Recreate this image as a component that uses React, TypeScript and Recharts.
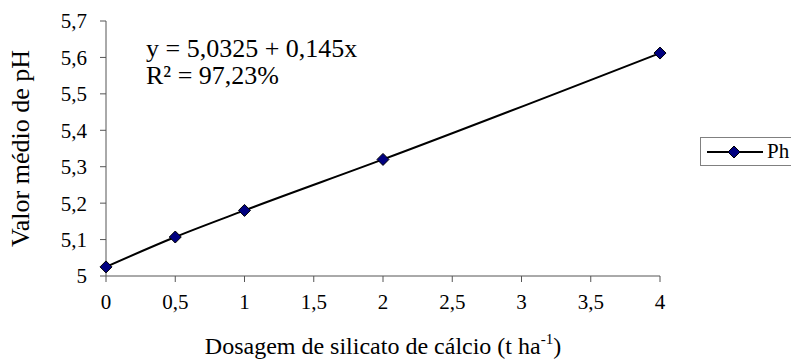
import { LineChart, Line, XAxis, YAxis, Legend, Label } from "recharts"

const doses = [0, 0.5, 1, 2, 4]
const phValues = [5.025, 5.107, 5.18, 5.32, 5.612]
const xTicks = [0, 0.5, 1, 1.5, 2, 2.5, 3, 3.5, 4]
const yTicks = [5, 5.1, 5.2, 5.3, 5.4, 5.5, 5.6, 5.7]
const seriesName = "Ph"
const equationLines = ["y = 5,0325 + 0,145x", "R² = 97,23%"]

const data = doses.map((d, i) => ({ dose: d, ph: phValues[i] }))

const font = "'Liberation Serif', 'Times New Roman', serif"
const fmt = (v: number) => String(v).replace(".", ",")

// force the serif font on every svg text (tick labels kept coming out sans)
const css = `
body { margin: 0; }
.recharts-wrapper svg text, .recharts-wrapper svg tspan {
  font-family: 'Liberation Serif', 'Times New Roman', serif !important;
}
.recharts-cartesian-axis-tick-value { font-size: 21px !important; }
`

function Diamond(props: any) {
  const { cx, cy } = props
  if (cx == null || cy == null) return null
  const r = 6
  return (
    <polygon
      points={`${cx},${cy - r} ${cx + r},${cy} ${cx},${cy + r} ${cx - r},${cy}`}
      fill="#000080"
      stroke="#000"
      strokeWidth={1}
    />
  )
}

function XTitle(props: any) {
  const vb = props.viewBox || {}
  const x = vb.x + vb.width / 2
  return (
    <text x={x} y={354} textAnchor="middle" fontFamily={font} fontSize={24} fill="#000">
      <tspan>Dosagem de silicato de cálcio (t ha</tspan>
      <tspan dy={-10} fontSize={15}>-1</tspan>
      <tspan dy={10}>)</tspan>
    </text>
  )
}

function LegendBox() {
  return (
    <div
      style={{
        border: "1px solid #808080",
        width: 100,
        height: 27,
        display: "flex",
        alignItems: "center",
        fontFamily: font,
        fontSize: 21,
        background: "#fff",
      }}
    >
      <svg width={66} height={16}>
        <line x1={6} y1={8} x2={62} y2={8} stroke="#000" strokeWidth={2} />
        <polygon points="33,2 39,8 33,14 27,8" fill="#000080" stroke="#000" />
      </svg>
      <span>{seriesName}</span>
    </div>
  )
}

export default function App() {
  return (
    <div
      style={{
        position: "absolute",
        left: 0,
        top: 0,
        width: 791,
        height: 362,
        background: "#fff",
        fontFamily: font,
        overflow: "hidden",
      }}
    >
      <style>{css}</style>
      <LineChart
        width={791}
        height={362}
        data={data}
        margin={{ top: 21, right: 131, bottom: 0, left: 0 }}
      >
        <XAxis
          dataKey="dose"
          type="number"
          domain={[0, 4]}
          ticks={xTicks}
          tickFormatter={fmt}
          stroke="#555"
          tickSize={6}
          tickMargin={12}
          tick={{ fill: "#000", fontSize: 21, fontFamily: font }}
          height={86}
          label={{ content: <XTitle /> }}
        />
        <YAxis
          type="number"
          domain={[5, 5.7]}
          ticks={yTicks}
          tickFormatter={fmt}
          stroke="#555"
          tickSize={6}
          tickMargin={13}
          width={106}
          tick={{ fill: "#000", fontSize: 21, fontFamily: font }}
        >
          <Label
            value="Valor médio de pH"
            angle={-90}
            position="insideLeft"
            offset={20}
            style={{ textAnchor: "middle", fontFamily: font, fontSize: 26, fill: "#000" }}
          />
        </YAxis>
        <Legend
          layout="vertical"
          align="center"
          verticalAlign="middle"
          content={<LegendBox />}
          wrapperStyle={{ position: "absolute", left: 700, top: 137, width: 100 }}
        />
        <Line
          name={seriesName}
          dataKey="ph"
          type="monotone"
          stroke="#000"
          strokeWidth={2}
          dot={<Diamond />}
          activeDot={false}
          isAnimationActive={false}
        />
      </LineChart>
      <div
        style={{
          position: "absolute",
          left: 146,
          top: 35,
          fontFamily: font,
          fontSize: 26,
          lineHeight: "27px",
          color: "#000",
        }}
      >
        {equationLines.map((l) => (
          <div key={l}>{l}</div>
        ))}
      </div>
    </div>
  )
}
